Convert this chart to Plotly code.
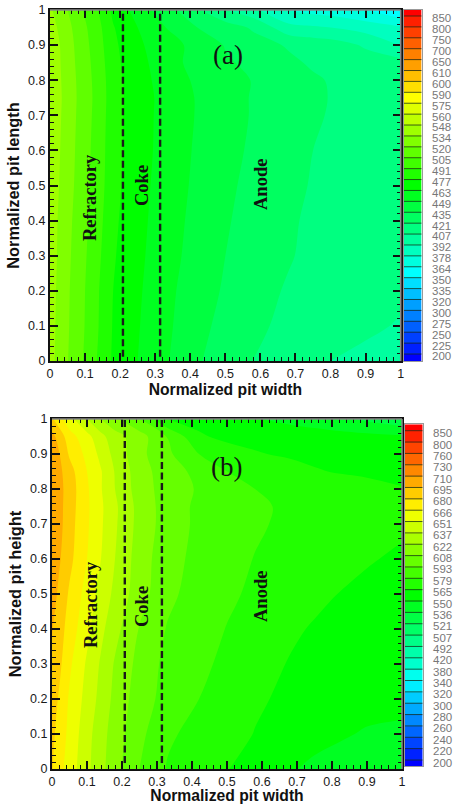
import numpy as np
import plotly.graph_objects as go

W, H = 453, 804

RAINBOW = [[0, "#0000ff"], [0.25, "#00ffff"], [0.5, "#00ff00"], [0.75, "#ffff00"], [1, "#ff0000"]]

levels_a = [850, 800, 750, 700, 650, 610, 600, 590, 575, 560, 548, 534, 520, 505, 491, 477,
            463, 449, 435, 421, 407, 392, 378, 364, 350, 335, 320, 300, 275, 250, 225, 200]
levels_b = [850, 800, 760, 730, 710, 695, 680, 666, 651, 637, 622, 608, 593, 579, 565, 550,
            536, 521, 507, 492, 420, 380, 340, 320, 300, 280, 260, 240, 220, 200]

width_nodes = [0, .02, .05, .1, .14, .18, .25, .33, .42, .5, .58, .68, .75, .8, .9, 1]
height_nodes = [0, .1, .2, .3, .4, .5, .6, .7, .75, .8, .85, .9, .95, 1]

temp_a = [
    [538, 532, 520.5, 503, 488.5, 475, 463, 450.5, 436.5, 428, 420.7, 414, 409.5, 407, 404, 401],
    [539, 532.5, 521.5, 504.5, 490.5, 476, 464, 452, 439, 431, 424, 417.5, 414, 412, 409, 406],
    [540, 533, 522, 505, 491, 477, 465, 453, 441, 433.5, 426.5, 419.5, 416, 414.5, 411.5, 409],
    [541, 534, 523, 506.5, 493, 478.5, 466, 455, 443, 435, 428, 422.2, 417.5, 416, 413, 410.5],
    [542, 534.5, 524, 508, 495, 480, 467, 456, 444.5, 436.5, 429.5, 423, 418.5, 417, 414, 411.5],
    [543, 536, 526, 509, 497, 481.5, 468, 457, 446, 438, 431, 424.5, 420, 418, 415, 412.5],
    [544, 537, 527, 510, 498, 482, 469, 458, 447, 439, 433, 426, 421, 419, 416, 413],
    [545, 538, 528, 511, 499, 482.5, 469, 458.5, 448, 440, 434, 427, 423, 420, 416, 413],
    [545, 538.5, 528.5, 511.5, 499.5, 483, 469.5, 458.5, 448, 440, 434, 427.5, 423.5, 420.5, 416.5, 413.5],
    [545, 538, 528, 511, 499, 482.5, 468.5, 457.5, 446.5, 439, 434.5, 427.5, 423, 420, 415.5, 412],
    [545, 537.5, 527, 510, 498, 481, 468, 455, 444, 437, 431.5, 424, 419, 417, 413.5, 412],
    [544, 537, 526, 509, 496, 480, 466, 453, 446, 434, 427, 419.5, 416, 414, 405, 391],
    [541, 534, 524, 507, 494, 478, 463, 449, 435, 428, 419, 397, 394, 392, 386, 380],
    [536, 530, 520, 503, 490, 474, 457, 441, 423, 407, 396, 376, 373, 371, 364, 350],
]

temp_b = [
    [681, 671, 659, 640.5, 626.5, 613, 593, 578, 571.5, 565.5, 559.5, 551.5, 547, 544.5, 541, 538],
    [684, 674.5, 662, 642, 628, 615, 597, 581, 575, 570, 564.5, 558, 555, 553, 548.5, 547.5],
    [688, 678.5, 664, 646, 632, 618, 600, 588, 579, 574, 567, 562, 560, 558.5, 556, 554],
    [692, 684, 668.5, 649, 635, 620.5, 603, 589, 582, 576, 571, 564, 561.5, 560, 557.5, 555.5],
    [696, 687, 674, 655, 640.5, 627, 607, 592, 585, 578.5, 574, 567.5, 563.5, 562, 559.5, 557],
    [702, 692, 678, 660, 645.5, 633.5, 614, 596.5, 587, 581.5, 576.5, 572, 568.5, 565.5, 562, 559.5],
    [706, 697, 684, 666, 651, 637, 615, 598.5, 589, 584, 578.5, 574, 571, 569, 566, 563],
    [709, 700, 686, 668, 653, 639, 617, 601, 590, 586, 581, 576, 574, 573, 570, 567],
    [709, 700, 687, 668.5, 653.5, 639.5, 617, 601, 590, 586, 581, 577, 573.5, 572, 570, 567.5],
    [709, 700, 688, 668, 652, 637, 615, 601, 591.5, 586, 579, 575, 573, 572, 570, 566],
    [708, 699, 686, 666, 652, 636, 614, 600, 589, 579, 575, 570, 566.5, 564.5, 562, 559],
    [700, 696, 678, 662, 647, 632, 612, 596, 579, 572, 566, 563, 560.5, 559, 557, 555],
    [700, 689, 672, 656, 641, 628, 614, 592.5, 567, 561, 561, 559, 557, 556, 554, 552],
    [682, 672, 656, 637, 622, 611, 593, 565, 560, 555, 551, 546, 543, 540, 533, 525],
]

ticks_01 = [i / 10 for i in range(11)]
tick_text = ["0", "0.1", "0.2", "0.3", "0.4", "0.5", "0.6", "0.7", "0.8", "0.9", "1"]
interface_x = [0.208, 0.314]

panels = [
    dict(levels=levels_a, temp=temp_a, ylabel="Normalized pit length", tag="(a)", tag_xy=(228, 55),
         box=(50, 400.7, 10, 361), bar=(403.5, 421.7), bar_y=(10, 361), bar_lines=(354, 16),
         zone_xy=[("Refractory", 90, 198), ("Coke", 142, 186), ("Anode", 261, 185)],
         dash_bottom=0.012),
    dict(levels=levels_b, temp=temp_b, ylabel="Normalized pit height", tag="(b)", tag_xy=(226, 467),
         box=(52, 402, 419, 769), bar=(404.7, 422.7), bar_y=(424.3, 766), bar_lines=(760, 430.7),
         zone_xy=[("Refractory", 91, 605), ("Coke", 142, 607), ("Anode", 261, 597)],
         dash_bottom=0.017),
]

fig = go.Figure()
layout = {}
annotations = []
shapes = []
LABEL_FONT = dict(family="Liberation Sans", size=12.5, color="#1a1a1a")
XTITLE_FONT = dict(family="Liberation Sans", size=15.7, color="#111111")
YTITLE_FONT = dict(family="Liberation Sans", size=16.4, color="#111111")

for i, p in enumerate(panels):
    n_main = 2 * i + 1
    n_bar = 2 * i + 2
    xm, ym = f"x{n_main}", f"y{n_main}"
    xb, yb = f"x{n_bar}", f"y{n_bar}"
    levels = np.array(p["levels"], dtype=float)
    n = len(levels)
    asc = levels[::-1]
    idx = np.arange(n)
    z = np.interp(np.array(p["temp"]), asc, idx)

    fig.add_trace(go.Contour(
        x=width_nodes, y=height_nodes, z=z, xaxis=xm, yaxis=ym,
        autocontour=False, contours=dict(start=0, end=n - 1, size=1, coloring="fill", showlines=False),
        line=dict(width=0), colorscale=RAINBOW, showscale=False, hoverinfo="skip",
    ))
    for xv in interface_x:
        fig.add_trace(go.Scatter(
            x=[xv, xv], y=[p["dash_bottom"], 1], mode="lines", xaxis=xm, yaxis=ym, showlegend=False,
            line=dict(color="#1a1a1a", width=2.4, dash="7px,3.5px"), hoverinfo="skip",
        ))

    # legend bar
    step = (p["bar_lines"][0] - p["bar_lines"][1]) / (n - 1)
    edges = [-(p["bar_y"][1] - p["bar_lines"][0]) / step]
    edges += list(range(n))
    edges += [n - 1 + (p["bar_lines"][1] - p["bar_y"][0]) / step]
    fig.add_trace(go.Heatmap(
        x=[0, 1], y=edges, z=[[k / n] for k in range(n + 1)], zmin=0, zmax=1, colorscale=RAINBOW,
        showscale=False, xaxis=xb, yaxis=yb, hoverinfo="skip",
    ))
    lx, ly = [], []
    for k in range(n):
        lx += [0, 1, None]
        ly += [k, k, None]
    fig.add_trace(go.Scatter(
        x=lx, y=ly, mode="lines", xaxis=xb, yaxis=yb, showlegend=False,
        line=dict(color="rgba(20,40,20,0.75)", width=1), hoverinfo="skip",
    ))

    x0, x1, ytop, ybot = p["box"]
    axis_common = dict(
        range=[0, 1], tickmode="array", tickvals=ticks_01, ticktext=tick_text, ticks="inside",
        ticklen=8, tickwidth=1.5, tickcolor="#111111", showgrid=False, zeroline=False,
        showline=True, linecolor="#111111", linewidth=2, mirror="ticks", tickfont=LABEL_FONT,
        automargin=False,
        minor=dict(tickmode="array", tickvals=[j / 50 for j in range(51) if j % 5], ticks="inside",
                   ticklen=4, tickwidth=1, tickcolor="#111111", showgrid=False),
    )
    layout[f"xaxis{n_main}"] = dict(
        axis_common, domain=[x0 / W, x1 / W], anchor=ym,
        title=dict(text="<b>Normalized pit width</b>", font=XTITLE_FONT, standoff=0),
    )
    layout[f"yaxis{n_main}"] = dict(
        axis_common, domain=[1 - ybot / H, 1 - ytop / H], anchor=xm,
        title=dict(text=f"<b>{p['ylabel']}</b>", font=YTITLE_FONT, standoff=4),
    )
    bx0, bx1 = p["bar"]
    layout[f"xaxis{n_bar}"] = dict(
        domain=[bx0 / W, bx1 / W], anchor=yb, range=[0, 1], showticklabels=False, ticks="",
        showgrid=False, zeroline=False, showline=True, linecolor="#999999", linewidth=1, mirror=True,
        automargin=False,
    )
    layout[f"yaxis{n_bar}"] = dict(
        domain=[1 - p["bar_y"][1] / H, 1 - p["bar_y"][0] / H], anchor=xb, side="right",
        range=[edges[0], edges[-1]], tickmode="array",
        tickvals=[k - 0.22 for k in range(n)], ticktext=[str(v) for v in p["levels"][::-1]],
        ticks="outside", ticklen=7, tickcolor="rgba(0,0,0,0)", showgrid=False, zeroline=False,
        showline=True, linecolor="#999999", linewidth=1, mirror=True, automargin=False,
        tickfont=dict(family="Liberation Sans", size=11.5, color="#777777"),
    )
    # lighter top and right frame edges
    shapes.append(dict(type="line", xref="paper", yref="paper", x0=x0 / W, x1=x1 / W,
                       y0=1 - ytop / H, y1=1 - ytop / H, line=dict(color="#8a8a8a", width=1.5)))
    shapes.append(dict(type="line", xref="paper", yref="paper", x0=x1 / W, x1=x1 / W,
                       y0=1 - ybot / H, y1=1 - ytop / H, line=dict(color="#8a8a8a", width=1.5)))

    for text, zx, zy in p["zone_xy"]:
        annotations.append(dict(
            text=f"<b>{text}</b>", x=zx / W, y=1 - zy / H, xref="paper", yref="paper",
            textangle=-90, showarrow=False, xanchor="center", yanchor="middle",
            font=dict(family="Liberation Serif", size=18.5, color="#111111"),
        ))
    annotations.append(dict(
        text=p["tag"], x=p["tag_xy"][0] / W, y=1 - p["tag_xy"][1] / H, xref="paper", yref="paper",
        showarrow=False, xanchor="center", yanchor="middle",
        font=dict(family="Liberation Serif", size=27, color="#111111"),
    ))

fig.update_layout(
    width=W, height=H, autosize=False, margin=dict(l=0, r=0, t=0, b=0),
    paper_bgcolor="white", plot_bgcolor="white", showlegend=False,
    annotations=annotations, shapes=shapes, **layout,
)
fig.write_html("out.html", config={"displayModeBar": False},
               post_script="document.body.style.margin='0';")
